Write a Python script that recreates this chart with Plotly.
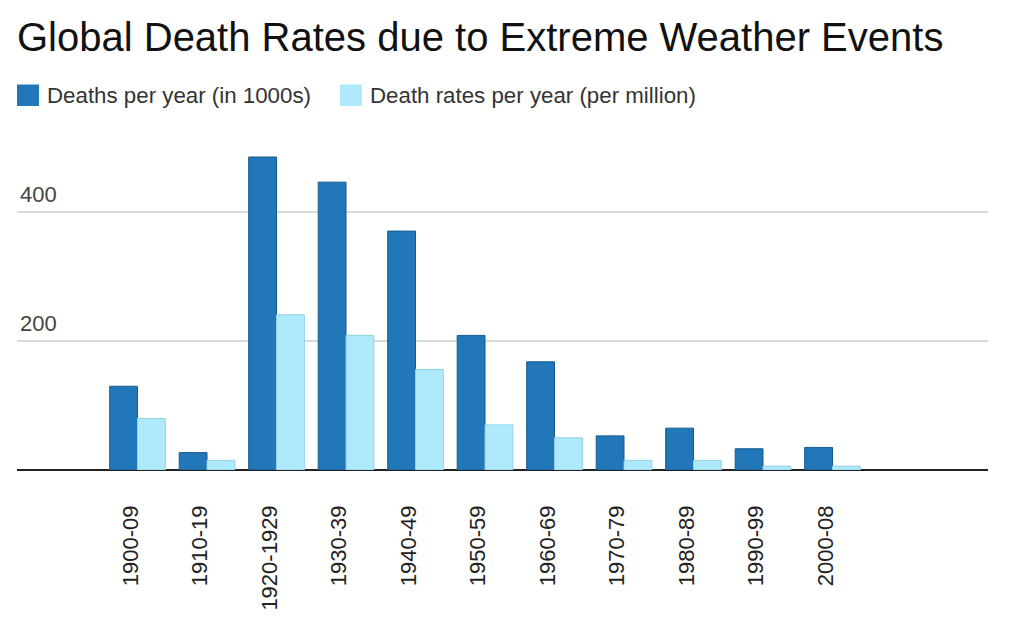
import plotly.graph_objects as go

categories = ["1900-09", "1910-19", "1920-1929", "1930-39", "1940-49", "1950-59",
              "1960-69", "1970-79", "1980-89", "1990-99", "2000-08"]
deaths_thousands = [130, 27, 486, 447, 371, 209, 168, 53, 65, 33, 35]
death_rate_per_million = [80, 15, 241, 209, 156, 70, 50, 15, 15, 6, 6]
y_tick_values = [200, 400]
y_tick_labels = ["200", "400"]

series1_name = "Deaths per year (in 1000s)"
series2_name = "Death rates per year (per million)"
dark = "#2177b7"
dark_line = "#175b8e"
light = "#afe9fc"
light_line = "#8fd0e6"

FONT = "Liberation Sans, Arial, Helvetica, sans-serif"

fig = go.Figure()
fig.add_trace(go.Bar(x=categories, y=deaths_thousands, name=series1_name,
                     marker=dict(color=dark, line=dict(color=dark_line, width=1))))
fig.add_trace(go.Bar(x=categories, y=death_rate_per_million, name=series2_name,
                     marker=dict(color=light, line=dict(color=light_line, width=1))))

L, R, T, B = 17, 36, 148, 149
W, H = 1024, 619
pw = W - L - R
ph = H - T - B

def px_x(x):
    return (x - L) / pw

def px_y(y):
    return (H - B - y) / ph

shapes = [
    dict(type="rect", xref="paper", yref="paper", x0=px_x(17), x1=px_x(39),
         y0=px_y(106), y1=px_y(84.5), fillcolor=dark, line=dict(width=0)),
    dict(type="rect", xref="paper", yref="paper", x0=px_x(340), x1=px_x(362),
         y0=px_y(106), y1=px_y(84.5), fillcolor=light, line=dict(width=0)),
]
annotations = [
    dict(text=series1_name, xref="paper", yref="paper", x=px_x(45), y=px_y(95.5),
         xanchor="left", yanchor="middle", showarrow=False,
         font=dict(family=FONT, size=22.3, color="#333333")),
    dict(text=series2_name, xref="paper", yref="paper", x=px_x(368), y=px_y(95.5),
         xanchor="left", yanchor="middle", showarrow=False,
         font=dict(family=FONT, size=22.3, color="#333333")),
]

spacing = 69.5
c0 = 137.5
fig.update_layout(
    width=W, height=H,
    margin=dict(l=L, r=R, t=T, b=B, autoexpand=False),
    paper_bgcolor="white", plot_bgcolor="white",
    barmode="group", bargap=0.2, bargroupgap=0,
    showlegend=False,
    title=dict(text="Global Death Rates due to Extreme Weather Events",
               x=17 / W, xanchor="left", xref="container",
               y=1 - 37 / H, yanchor="middle", yref="container",
               font=dict(family=FONT, size=40, color="#111111")),
    shapes=shapes,
    annotations=annotations,
    xaxis=dict(type="category", automargin=False,
               range=[(L - c0) / spacing, (W - R - c0) / spacing],
               tickangle=-90, showgrid=False, ticks="", showline=False,
               ticklabelstandoff=30, ticklabelshift=-7,
               tickfont=dict(family=FONT, size=22, color="#222222")),
    yaxis=dict(range=[0, 500], tickvals=y_tick_values, ticktext=y_tick_labels,
               automargin=False,
               showgrid=True, gridcolor="#d9d9d9", gridwidth=1.5,
               zeroline=True, zerolinecolor="#222222", zerolinewidth=2,
               ticklabelposition="inside", ticklabelshift=-18, ticks="",
               tickfont=dict(family=FONT, size=22, color="#444444")),
)

fig.write_html("out.html")
